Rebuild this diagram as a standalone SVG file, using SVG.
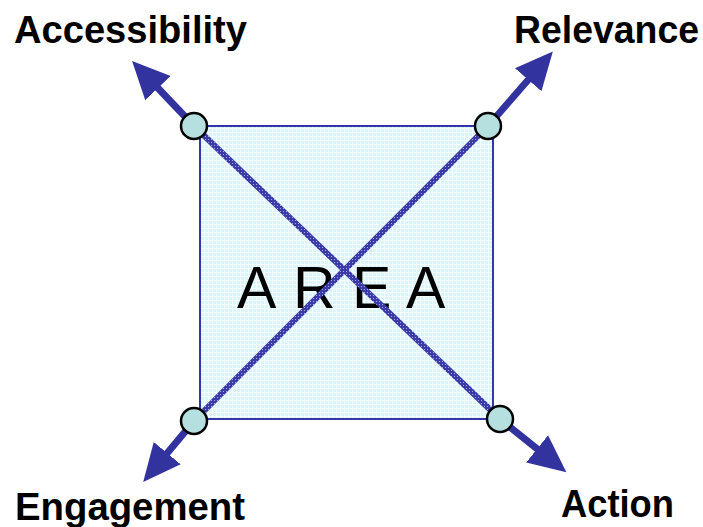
<svg xmlns="http://www.w3.org/2000/svg" width="703" height="527" viewBox="0 0 703 527">
  <style>
    .label { font-family: "Liberation Sans", Arial, sans-serif; font-weight: bold; font-size: 38px; fill: #000; }
    .area { font-family: "Liberation Sans", Arial, sans-serif; font-size: 59px; fill: #000; }
    .arrow { stroke: #3333a0; stroke-width: 7; fill: none; marker-end: url(#head); }
    .diag { stroke: url(#dither); stroke-width: 6; fill: none; }
    .joint { fill: #b6dfdf; stroke: #000; stroke-width: 2.5; }
  </style>
  <defs>
    <marker id="head" markerUnits="userSpaceOnUse" markerWidth="40" markerHeight="40" viewBox="0 -15 32 30" refX="4" refY="0" orient="auto">
      <path d="M0,-14 L30,0 L0,14 z" fill="#3333a0"/>
    </marker>
    <pattern id="dither" patternUnits="userSpaceOnUse" width="3" height="3">
      <rect width="3" height="3" fill="#3a3aa8"/>
      <rect x="1" y="1" width="1" height="1" fill="#a8a8e0"/>
    </pattern>
    <pattern id="grid" patternUnits="userSpaceOnUse" width="4" height="4">
      <rect width="4" height="4" fill="#dcf5fb"/>
      <rect x="0" y="0" width="4" height="1" fill="#f4fcfe"/>
      <rect x="0" y="0" width="1" height="4" fill="#f4fcfe"/>
    </pattern>
  </defs>

  <g id="area">
    <rect x="200" y="126" width="293" height="293" fill="url(#grid)" stroke="#3535aa" stroke-width="2"/>
    <text class="area" x="237 293 352 406" y="308">AREA</text>
  </g>

  <g id="connectors">
    <line class="diag" x1="194" y1="126" x2="501" y2="420"/>
    <line class="diag" x1="488" y1="126" x2="194" y2="421"/>
    <line class="arrow" x1="194" y1="126" x2="154.5" y2="84.5"/>
    <line class="arrow" x1="488" y1="126" x2="531.5" y2="76"/>
    <line class="arrow" x1="194" y1="421" x2="164" y2="457"/>
    <line class="arrow" x1="501" y1="420" x2="541" y2="452"/>
  </g>

  <g id="joint-tl"><circle class="joint" cx="194" cy="126" r="13"/></g>
  <g id="joint-tr"><circle class="joint" cx="488" cy="126" r="13"/></g>
  <g id="joint-bl"><circle class="joint" cx="194" cy="421" r="13"/></g>
  <g id="joint-br"><circle class="joint" cx="500" cy="419" r="13"/></g>

  <g id="label-accessibility"><text class="label" x="14" y="43" textLength="233" lengthAdjust="spacingAndGlyphs">Accessibility</text></g>
  <g id="label-relevance"><text class="label" x="514" y="43" textLength="185" lengthAdjust="spacingAndGlyphs">Relevance</text></g>
  <g id="label-engagement"><text class="label" x="15" y="520" textLength="230" lengthAdjust="spacingAndGlyphs">Engagement</text></g>
  <g id="label-action"><text class="label" x="561" y="517" textLength="113" lengthAdjust="spacingAndGlyphs">Action</text></g>
</svg>
